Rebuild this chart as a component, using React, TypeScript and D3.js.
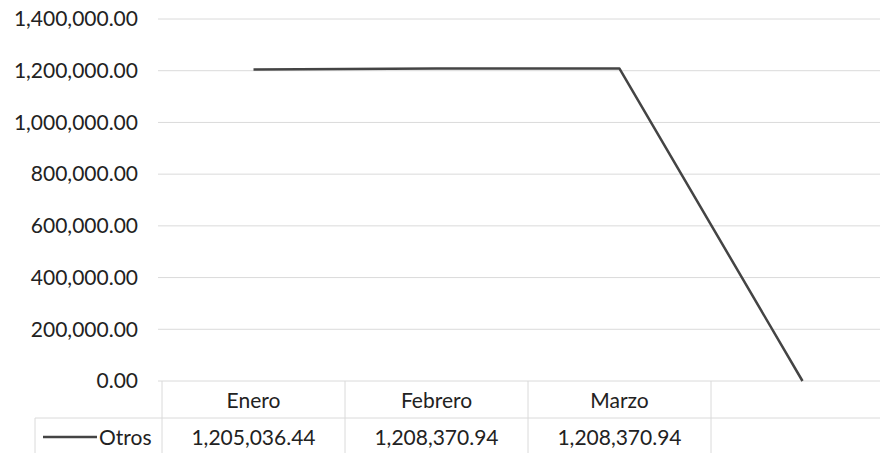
import React from "react";
import * as d3 from "d3";

const categories = ["Enero", "Febrero", "Marzo", ""];
const seriesName = "Otros";
const values: (number | null)[] = [1205036.44, 1208370.94, 1208370.94, null];
const yTicks = [0, 200000, 400000, 600000, 800000, 1000000, 1200000, 1400000];

const W = 880;
const H = 453;

export default function App() {
  const keys = categories.map((c, i) => i + ":" + c);
  const x = d3.scaleBand<string>().domain(keys).range([162, 894]).padding(0);
  const y = d3.scaleLinear().domain([0, 1400000]).range([381, 19]);
  const fmt = d3.format(",.2f");
  const cx = (i: number) => (x(keys[i]) as number) + x.bandwidth() / 2;
  const line = d3
    .line<number | null>()
    .x((_, i) => cx(i))
    .y((d) => y(d ?? 0));
  const font = "Lato, 'Open Sans', sans-serif";
  const grid = "#dadada";
  const fs = 21;
  const bounds = [x.range()[0], ...keys.map((k) => (x(k) as number) + x.bandwidth())];
  return (
    <svg width={W} height={H} style={{ position: "absolute", left: 0, top: 0, background: "#fff" }} fontFamily={font}>
      {yTicks.map((t) => (
        <g key={t}>
          <line x1={158} x2={W} y1={y(t)} y2={y(t)} stroke={grid} strokeWidth={1} />
          <text x={138} y={y(t)} dy="0.35em" textAnchor="end" fontSize={fs} fill="#222">
            {fmt(t)}
          </text>
        </g>
      ))}
      {/* data table */}
      <line x1={35} x2={W} y1={418} y2={418} stroke={grid} strokeWidth={1} />
      <line x1={35} x2={35} y1={418} y2={H} stroke={grid} strokeWidth={1} />
      {bounds.map((b, i) => (
        <line key={i} x1={b} x2={b} y1={381} y2={H} stroke={grid} strokeWidth={1} />
      ))}
      {categories.map((c, i) => (
        <text key={"h" + i} x={cx(i)} y={401} dy="0.35em" textAnchor="middle" fontSize={fs} fill="#222">
          {c}
        </text>
      ))}
      {values.map((v, i) => (
        <text key={"v" + i} x={cx(i)} y={438} dy="0.35em" textAnchor="middle" fontSize={fs} fill="#222">
          {v == null ? "" : fmt(v)}
        </text>
      ))}
      <line x1={43} x2={97} y1={437} y2={437} stroke="#444" strokeWidth={2.5} />
      <text x={99} y={438} dy="0.35em" fontSize={fs} fill="#222">
        {seriesName}
      </text>
      <path d={line(values) || ""} fill="none" stroke="#444" strokeWidth={2.5} strokeLinejoin="round" />
    </svg>
  );
}
